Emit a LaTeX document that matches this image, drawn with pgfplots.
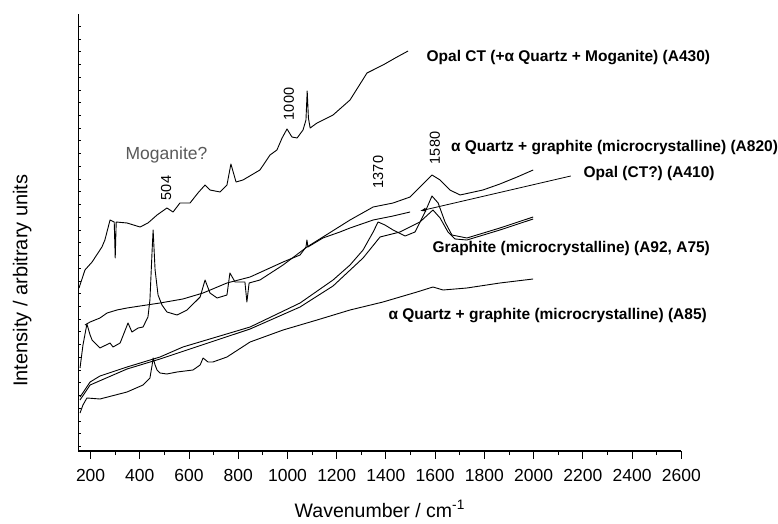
\documentclass[border=0pt]{standalone}
\usepackage{pgfplots}
\pgfplotsset{compat=1.18}
\usepackage{fontspec}
\setmainfont{Liberation Sans}
\usetikzlibrary{arrows.meta}
\begin{document}
\begin{tikzpicture}
\path[use as bounding box] (-78.3pt,-73pt) rectangle (699.7pt,451pt);
\begin{axis}[
  at={(0,0)}, anchor=south west,
  scale only axis, width=603pt, height=437pt,
  xmin=150, xmax=2600, ymin=0, ymax=437,
  axis x line=bottom, axis y line=left,
  axis line style={-, line width=1.1pt},
  xtick={200,400,...,2600}, minor x tick num=1,
  xtick align=outside, ytick align=inside,
  major tick length=7.5pt, minor tick length=4pt,
  ytick={4.5,17.23,...,437},
  ytick style={/pgfplots/major tick length=3pt},
  yticklabels={},
  tick style={line width=1pt, black},
  /pgf/number format/assume math mode=true,
  /pgf/number format/1000 sep={},
  xticklabel style={font=\fontsize{17.5}{20}\selectfont, yshift=-7pt},
  xlabel={Wavenumber / cm\textsuperscript{-1}},
  xlabel style={font=\fontsize{19.5}{22}\selectfont, at={(axis description cs:0.5,0)}, anchor=north, yshift=-46pt},
  ylabel={Intensity / arbitrary units},
  ylabel style={font=\fontsize{20}{22}\selectfont, at={(axis description cs:-0.0929,0.39)}, anchor=center},
  clip=false,
  cycle list={{black, mark=none, solid}},
  every axis plot/.append style={line width=0.9pt, line join=round},
]
% A430 Opal CT
\addplot coordinates {
(153,163)(177,181)(206,189)(246,204)(258,211)(279,231)(296,229)(300,193)(304,229)
(348,228)(401,224)(433,228)(470,236)(510,243)(535,239)(563,248)(604,248)(636,258)
(665,266)(685,261)(726,259)(754,266)(770,287)(791,269)(819,271)(888,281)(929,296)
(957,301)(978,313)(998,322)(1018,314)(1039,313)(1063,321)(1075,331)(1080,360)
(1085,333)(1092,323)(1120,328)(1185,336)(1254,351)(1323,378)(1388,386)(1445,394)(1490,400)
};
% A820 alpha quartz + graphite
\addplot coordinates {
(157,83)(169,106)(185,127)(198,116)(206,111)(238,103)(279,108)(291,104)(320,108)
(352,128)(368,119)(393,123)(413,124)(433,134)(441,151)(450,201)(454,221)(458,201)
(462,181)(474,156)(490,146)(510,139)(551,136)(592,141)(645,154)(665,171)(685,158)
(714,153)(754,156)(766,178)(787,169)(827,169)(835,149)(844,168)(888,171)(982,186)
(1079,204)(1144,214)(1254,231)(1348,244)(1429,248)(1498,254)(1567,271)(1587,276)
(1620,271)(1660,261)(1701,256)(1794,261)(1863,267)(1933,274)(1998,281)
};
% A410 Opal (CT?)
\addplot coordinates {
(177,126)(198,129)(238,133)(267,138)(307,141)(348,143)(401,145)(482,148)(575,152)
(657,158)(754,168)(848,174)(982,189)(1051,196)(1075,204)(1079,211)(1083,204)
(1144,213)(1213,219)(1254,223)(1348,231)(1429,235)(1498,239)
};
% Graphite A92
\addplot coordinates {
(157,54)(198,69)(238,75)(348,84)(482,94)(575,104)(848,124)(1051,148)(1185,171)
(1254,186)(1307,201)(1348,219)(1368,229)(1396,226)(1429,221)(1478,215)(1518,219)
(1559,239)(1587,255)(1612,248)(1640,229)(1668,216)(1729,213)(1863,223)(1998,234)
};
% Graphite A75
\addplot coordinates {
(157,51)(198,66)(348,82)(482,92)(848,122)(1051,144)(1185,165)(1307,193)(1376,214)
(1457,219)(1538,229)(1591,241)(1620,233)(1652,219)(1681,212)(1729,211)(1863,221)(1998,232)
};
% A85 alpha quartz + graphite
\addplot coordinates {
(157,38)(169,46)(185,53)(238,52)(348,59)(413,66)(441,73)(450,86)(454,93)(462,86)
(470,81)(482,78)(510,77)(551,79)(616,81)(645,86)(657,93)(677,89)(697,89)(754,94)
(848,109)(982,121)(1120,131)(1254,141)(1388,149)(1526,159)(1591,164)(1632,161)
(1729,163)(1863,168)(1998,172)
};
\begin{scope}[every node/.style={font=\fontsize{15.5}{18}\selectfont\bfseries}]
\node[anchor=west] at (axis cs:1551,393) {Opal CT (+α Quartz + Moganite) (A430)};
\node[anchor=west] at (axis cs:1650,303) {α Quartz + graphite (microcrystalline) (A820)};
\node[anchor=west] at (axis cs:2189,278) {Opal (CT?) (A410)};
\node[anchor=west] at (axis cs:1575,203) {Graphite (microcrystalline) (A92, A75)};
\node[anchor=west] at (axis cs:1396,135) {α Quartz + graphite (microcrystalline) (A85)};
\end{scope}
\node[anchor=west, text=black!65, font=\fontsize{17.5}{20}\selectfont] at (axis cs:328,296) {Moganite?};
\begin{scope}[every node/.style={rotate=90, font=\fontsize{14.5}{17}\selectfont}]
\node at (axis cs:507,263) {504};
\node at (axis cs:1006,347) {1000};
\node at (axis cs:1368,279) {1370};
\node at (axis cs:1599,303) {1580};
\end{scope}
\draw[line width=0.8pt, -{Latex[length=6pt,width=4pt]}] (axis cs:2151,275) -- (axis cs:1538,240);
\end{axis}
\end{tikzpicture}
\end{document}
